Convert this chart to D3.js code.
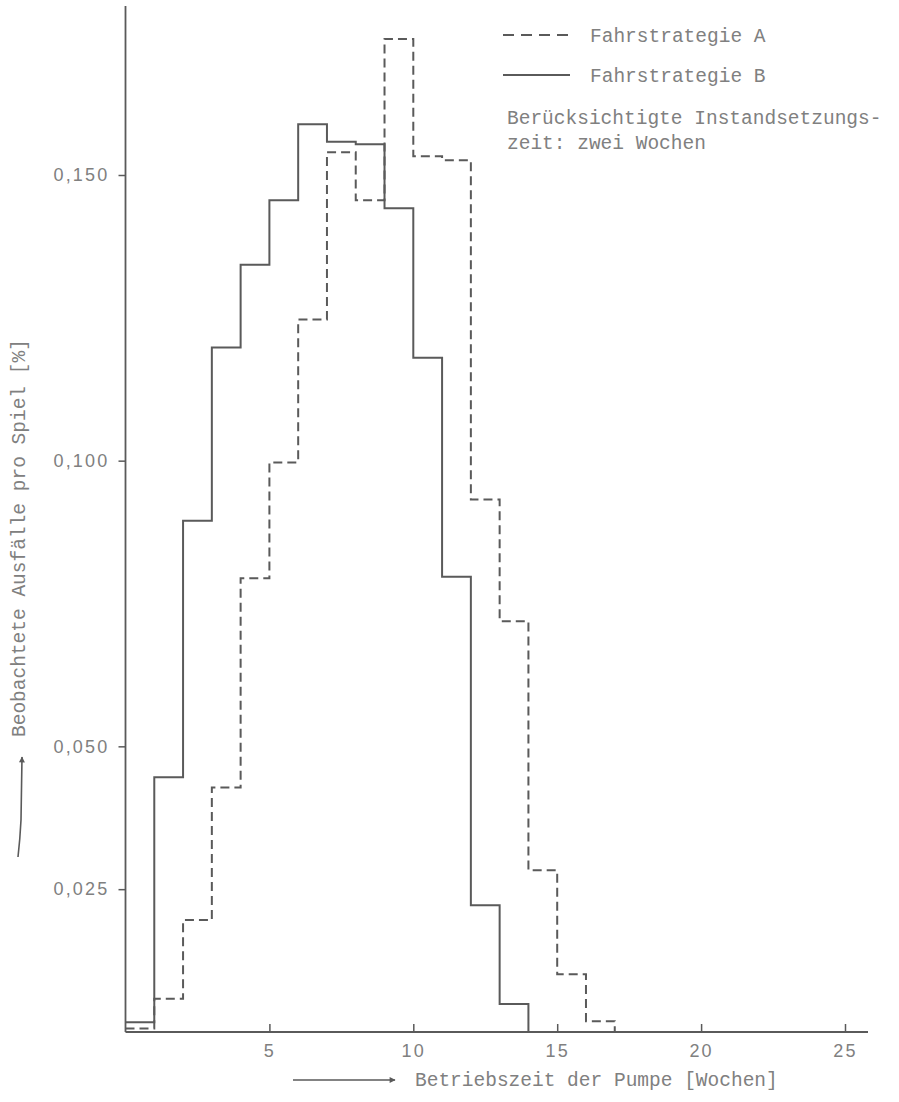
<!DOCTYPE html>
<html>
<head>
<meta charset="utf-8">
<script src="https://cdn.jsdelivr.net/npm/d3@7"></script>
<style>
  html, body { margin: 0; padding: 0; background: #fff; }
  svg { display: block; }
</style>
</head>
<body>
<svg id="chart" width="899" height="1102"></svg>
<script>
// ---- data ----
const binStart = [0, 1, 2, 3, 4, 5, 6, 7, 8, 9, 10, 11, 12, 13, 14, 15, 16];
const strategieA = [0.0006, 0.0058, 0.0196, 0.0428, 0.0794, 0.0997, 0.1247, 0.1540, 0.1456, 0.1738, 0.1533, 0.1526, 0.0932, 0.0719, 0.0283, 0.0101, 0.0019];
const strategieB = [0.0017, 0.0446, 0.0895, 0.1198, 0.1343, 0.1456, 0.1589, 0.1558, 0.1554, 0.1442, 0.1180, 0.0797, 0.0222, 0.0049];
const yTicks = [0.025, 0.050, 0.100, 0.150];
const yTickLabels = ["0,025", "0,050", "0,100", "0,150"];
const xTicks = [5, 10, 15, 20, 25];
const xTickLabels = ["5", "10", "15", "20", "25"];
const legendLabels = ["Fahrstrategie A", "Fahrstrategie B"];
const noteLines = ["Berücksichtigte Instandsetzungs-", "zeit: zwei Wochen"];
const xTitle = "Betriebszeit der Pumpe [Wochen]";
const yTitle = "Beobachtete Ausfälle pro Spiel [%]";

// ---- layout ----
const svg = d3.select("#chart");
const x0 = 125.5, y0 = 1032;
const x = d3.scaleLinear().domain([0, 25]).range([x0, 845]);
const y = d3.scaleLinear().domain([0, 0.15]).range([y0, 175]);

const lineCol = "#5a5a5a";
const textCol = "#808080";
const mono = "'Liberation Mono', 'DejaVu Sans Mono', monospace";
const sans = "'Liberation Sans', 'DejaVu Sans', sans-serif";

// axes lines
svg.append("line").attr("x1", x0).attr("x2", x0).attr("y1", 6).attr("y2", y0)
  .attr("stroke", lineCol).attr("stroke-width", 1.8);
svg.append("line").attr("x1", x0).attr("x2", 868).attr("y1", y0).attr("y2", y0)
  .attr("stroke", lineCol).attr("stroke-width", 1.8);

// y ticks
const yAxis = d3.axisLeft(y).tickValues(yTicks).tickSize(7).tickPadding(9)
  .tickFormat((d, i) => yTickLabels[i]);
const gy = svg.append("g").attr("transform", `translate(${x0},0)`).call(yAxis);
gy.select(".domain").remove();
gy.selectAll(".tick line").attr("stroke", lineCol).attr("stroke-width", 1.5);
gy.selectAll(".tick text").attr("fill", textCol).attr("font-family", sans)
  .attr("font-size", 18).attr("letter-spacing", 2.2);

// x ticks (pointing up into the plot)
const xAxis = d3.axisBottom(x).tickValues(xTicks).tickSize(-8).tickPadding(12)
  .tickFormat((d, i) => xTickLabels[i]);
const gx = svg.append("g").attr("transform", `translate(0,${y0})`).call(xAxis);
gx.select(".domain").remove();
gx.selectAll(".tick line").attr("stroke", lineCol).attr("stroke-width", 1.5);
gx.selectAll(".tick text").attr("fill", textCol).attr("font-family", sans)
  .attr("font-size", 18).attr("letter-spacing", 2.2);

// step paths
function stepPoints(vals) {
  const pts = vals.map((v, i) => [binStart[i], v]);
  const end = binStart[vals.length - 1] + 1;
  pts.push([end, vals[vals.length - 1]]);
  pts.push([end, 0]);
  return pts;
}
const stepLine = d3.line().x(d => x(d[0])).y(d => y(d[1])).curve(d3.curveStepAfter);

svg.append("path").attr("d", stepLine(stepPoints(strategieA)))
  .attr("fill", "none").attr("stroke", lineCol).attr("stroke-width", 2)
  .attr("stroke-dasharray", "9,5");
svg.append("path").attr("d", stepLine(stepPoints(strategieB)))
  .attr("fill", "none").attr("stroke", lineCol).attr("stroke-width", 2);

// legend
const legY = [35, 75];
svg.append("line").attr("x1", 503).attr("x2", 570).attr("y1", legY[0]).attr("y2", legY[0])
  .attr("stroke", lineCol).attr("stroke-width", 2).attr("stroke-dasharray", "11,7");
svg.append("line").attr("x1", 503).attr("x2", 570).attr("y1", legY[1]).attr("y2", legY[1])
  .attr("stroke", lineCol).attr("stroke-width", 2);
legendLabels.forEach((t, i) => {
  svg.append("text").attr("x", 590).attr("y", legY[i] + 6.5).text(t)
    .attr("fill", textCol).attr("font-family", mono).attr("font-size", 19.5);
});
noteLines.forEach((t, i) => {
  svg.append("text").attr("x", 507).attr("y", 124 + i * 25).text(t)
    .attr("fill", textCol).attr("font-family", mono).attr("font-size", 19.5);
});

// arrow marker
svg.append("defs").append("marker").attr("id", "arr")
  .attr("viewBox", "0 0 10 10").attr("refX", 9).attr("refY", 5)
  .attr("markerWidth", 9).attr("markerHeight", 6).attr("orient", "auto")
  .attr("markerUnits", "userSpaceOnUse")
  .append("path").attr("d", "M0,0 L10,5 L0,10 Z").attr("fill", lineCol);

// x title with arrow
svg.append("line").attr("x1", 293).attr("x2", 395).attr("y1", 1080).attr("y2", 1080)
  .attr("stroke", lineCol).attr("stroke-width", 1.6).attr("marker-end", "url(#arr)");
svg.append("text").attr("x", 415).attr("y", 1086).text(xTitle)
  .attr("fill", textCol).attr("font-family", mono).attr("font-size", 19.5);

// y title with arrow
svg.append("path").attr("d", "M18,857 Q20,840 21,820 L22,757")
  .attr("fill", "none").attr("stroke", lineCol).attr("stroke-width", 1.6)
  .attr("marker-end", "url(#arr)");
svg.append("text").attr("transform", "translate(25,737) rotate(-90)").text(yTitle)
  .attr("fill", textCol).attr("font-family", mono).attr("font-size", 19.5);
</script>
</body>
</html>
